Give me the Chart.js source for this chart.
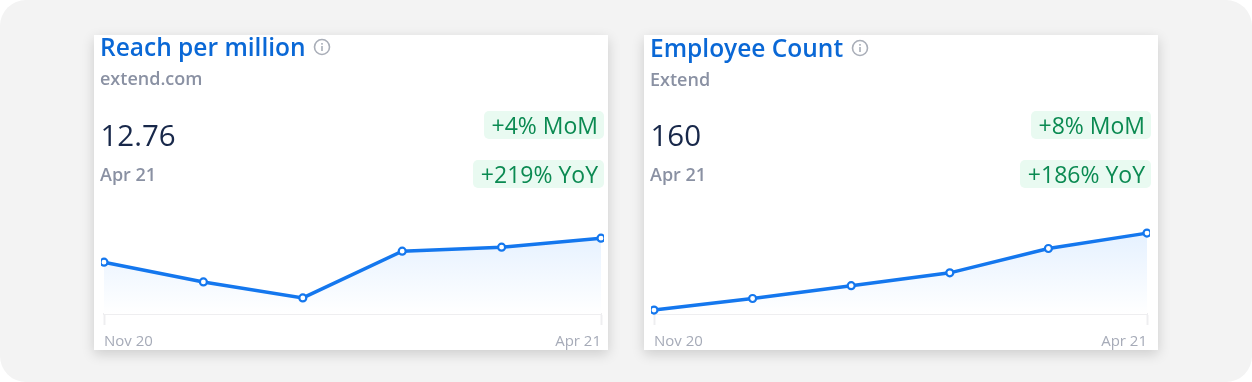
<!DOCTYPE html>
<html><head><meta charset="utf-8">
<script src="https://cdn.jsdelivr.net/npm/chart.js@4"></script>
<style>
html,body{margin:0;padding:0;background:#fff;width:1252px;height:382px;overflow:hidden;font-family:"Open Sans",sans-serif}
#bg{position:absolute;left:0;top:0;width:1252px;height:382px;background:#f3f3f3;border-radius:26px}
.card{position:absolute;top:35px;width:514px;height:315px;background:#fff;box-shadow:0 4px 12px rgba(0,0,0,.16);overflow:hidden}
#c1{left:94px}#c2{left:644px}
.inner{position:absolute;left:0;top:0;width:514px;height:315px;filter:blur(.35px)}
.t{position:absolute;white-space:nowrap}
.title{font-size:24.5px;font-weight:600;color:#0a68d6;line-height:30px}
.sub{font-size:18px;font-weight:600;color:#8a91a3;line-height:24px}
.val{font-size:29.5px;font-weight:500;color:#18284a;line-height:36px}
.badge{position:absolute;height:28px;line-height:29px;padding:0 6px 0 8px;background:#e9faf1;color:#0b8a52;font-size:23px;font-weight:500;border-radius:5px;white-space:nowrap}
svg.i{position:absolute;width:18px;height:18px}
canvas{position:absolute}
</style></head><body>
<div id="bg"></div>
<div class="card" id="c1"></div>
<div class="card" id="c2"></div>
<script>
const categories=["Nov 20","Dec 20","Jan 21","Feb 21","Mar 21","Apr 21"];
const reachValues=[11.45,10.37,9.5,12.05,12.27,12.76];
const employeeValues=[100,109,119,129,148,160];
const reachText={title:"Reach per million",sub:"extend.com",value:"12.76",date:"Apr 21",mom:"+4% MoM",yoy:"+219% YoY"};
const employeeText={title:"Employee Count",sub:"Extend",value:"160",date:"Apr 21",mom:"+8% MoM",yoy:"+186% YoY"};
const BLUE="#1477ee";

function build(id,txt,values,min,max,dy,iconX,cw,badgeRight){
  const card=document.getElementById(id);
  card.innerHTML=
   `<div class="inner"><div class="t title" style="left:6px;top:${-3.5+dy}px">${txt.title}</div>
    <svg class="i" viewBox="0 0 18 18" style="left:${iconX}px;top:${3+dy}px"><circle cx="9" cy="9" r="7.5" fill="none" stroke="#a9aeb8" stroke-width="1.6"/><rect x="8.2" y="8" width="1.6" height="5" fill="#a9aeb8"/><rect x="8.2" y="5" width="1.6" height="1.7" fill="#a9aeb8"/></svg>
    <div class="t sub" style="left:6px;top:${31+dy}px">${txt.sub}</div>
    <div class="t val" style="left:6.5px;top:82px">${txt.value}</div>
    <div class="t sub" style="left:6px;top:127px">${txt.date}</div>
    <div class="badge" style="top:76px;right:${badgeRight}px">${txt.mom}</div>
    <div class="badge" style="top:125px;right:${badgeRight}px">${txt.yoy}</div>
    <canvas width="${cw}" height="149" style="left:2px;top:175px;width:${cw}px;height:149px"></canvas></div>`;
  const cv=card.querySelector("canvas");
  new Chart(cv,{type:"line",
    data:{labels:categories,datasets:[{data:values,borderColor:BLUE,borderWidth:3.5,tension:0,
      pointRadius:3.5,pointBorderWidth:2.2,pointBackgroundColor:"#fff",pointBorderColor:BLUE,
      fill:"start",clip:{left:3,right:3,top:10,bottom:10},
      backgroundColor(ctx){
        const a=ctx.chart.chartArea; if(!a) return "transparent";
        const g=ctx.chart.ctx.createLinearGradient(0,a.top,0,a.bottom);
        g.addColorStop(0,"#e0eeff"); g.addColorStop(1,"#ffffff"); return g;
      }}]},
    options:{responsive:false,animation:false,
      layout:{padding:{left:0,right:2,top:0,bottom:0}},
      plugins:{legend:{display:false},tooltip:{enabled:false}},
      scales:{
        y:{display:false,min,max},
        x:{offset:false,
          border:{color:"#eeeef0",width:2},
          grid:{drawOnChartArea:false,drawTicks:true,tickLength:11,tickWidth:2,
            tickColor:c=>(c.index===0||c.index===categories.length-1)?"#eeeef0":"transparent"},
          ticks:{autoSkip:false,maxRotation:0,align:"inner",padding:8,color:"#a6abb8",
            font:{family:"Open Sans",size:15,weight:"500"},
            callback(v,i){return (i===0||i===categories.length-1)?categories[i]:"";}}
        }}
    }});
}
build("c1",reachText,reachValues,8.62,13.96,0,219,513,4);
build("c2",employeeText,employeeValues,96.9,173.2,1,207,509,7);
</script>
</body></html>
